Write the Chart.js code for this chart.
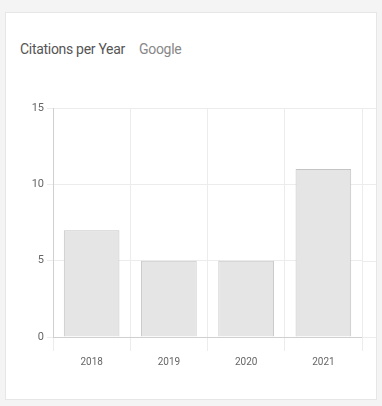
<!DOCTYPE html>
<html>
<head>
<meta charset="utf-8">
<script src="https://cdn.jsdelivr.net/npm/chart.js@4"></script>
<style>
  html, body { margin: 0; padding: 0; background: #f4f4f4; width: 382px; height: 406px; overflow: hidden; font-family: Roboto, "Noto Sans", sans-serif; }
  .card { position: absolute; left: 5px; top: 12px; width: 370px; height: 386px; background: #fff; border: 1px solid #e6e6e6; }
  .title { position: absolute; left: 14px; top: 28px; font-size: 14px; color: #555; letter-spacing: -0.3px; }
  .title .src { margin-left: 14px; color: #888; font-size: 14px; }
  .box { position: absolute; left: 5px; top: 83px; width: 365px; height: 290px; }
</style>
</head>
<body>
<div class="card">
  <div class="title">Citations per Year<span class="src">Google</span></div>
  <div class="box"><canvas id="c"></canvas></div>
</div>
<script>
// citations per year
const years = ['2018', '2019', '2020', '2021'];
const citations = [7, 5, 5, 11];
const yTicks = [0, 5, 10, 15];

// the horizontal grid runs a little past the last category
const gridRun = {
  id: 'gridRun',
  beforeDatasetsDraw(chart) {
    const { ctx, chartArea, scales } = chart;
    ctx.save();
    ctx.strokeStyle = '#ececec';
    ctx.lineWidth = 1;
    yTicks.forEach(v => {
      const y = Math.round(scales.y.getPixelForValue(v)) + 0.5;
      ctx.beginPath();
      ctx.moveTo(chartArea.right, y);
      ctx.lineTo(chartArea.right + 14, y);
      ctx.stroke();
    });
    ctx.restore();
  },
};

new Chart(document.getElementById('c'), {
  type: 'bar',
  data: {
    labels: years,
    datasets: [{ data: citations, backgroundColor: '#e5e5e5', borderColor: '#c4c4c4', borderWidth: 1 }],
  },
  options: {
    responsive: true,
    maintainAspectRatio: false,
    animation: false,
    layout: { padding: { top: 12, right: 14 } },
    plugins: { legend: { display: false }, tooltip: { enabled: false } },
    scales: {
      x: {
        grid: { color: '#ececec', tickLength: 14, offset: true },
        border: { color: '#d0d0d0' },
        ticks: { color: '#666', font: { size: 10, family: 'Roboto' }, padding: 5 },
        afterFit: s => { s.height = 49; },
      },
      y: {
        min: 0, max: 15,
        afterBuildTicks: s => { s.ticks = yTicks.map(v => ({ value: v })); },
        grid: { color: '#ececec', tickLength: 6 },
        border: { color: '#d0d0d0' },
        ticks: { color: '#666', font: { size: 11, family: 'Roboto' }, padding: 3 },
        afterFit: s => { s.width = 42; },
      },
    },
  },
  plugins: [gridRun],
});
</script>
</body>
</html>
